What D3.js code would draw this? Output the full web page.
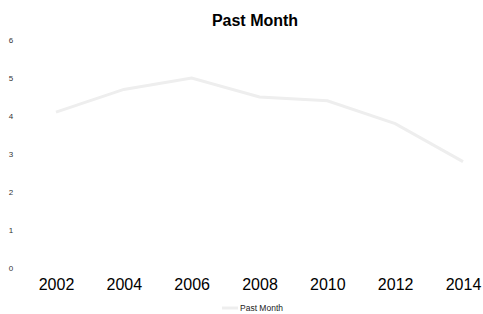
<!DOCTYPE html>
<html><head><meta charset="utf-8">
<script src="https://cdn.jsdelivr.net/npm/d3@7"></script>
<style>body{margin:0;background:#fff}svg{display:block}</style>
</head><body>
<svg id="c" width="483" height="314"></svg>
<script>
const years = ["2002","2004","2006","2008","2010","2012","2014"];
const pastMonth = [4.1, 4.7, 5.0, 4.5, 4.4, 3.8, 2.8];
const yTicks = [0,1,2,3,4,5,6];
const seriesName = "Past Month";

const svg = d3.select("#c");
const x = d3.scalePoint().domain(years).range([56, 463]);
const y = d3.scaleLinear().domain([0, 6]).range([268, 40]);

svg.append("text").attr("x", 255).attr("y", 26).attr("text-anchor","middle")
  .attr("font-family","Liberation Sans, Arial, sans-serif").attr("font-weight","bold")
  .attr("font-size", 16).attr("fill","#000").text("Past Month");

const ya = svg.append("g").attr("transform","translate(14,0)")
  .call(d3.axisLeft(y).tickValues(yTicks).tickFormat(d3.format("d")).tickSize(0).tickPadding(0));
ya.select(".domain").remove();
ya.selectAll("text").attr("font-family","Liberation Sans, Arial, sans-serif")
  .attr("font-size", 8).attr("fill","#333").attr("text-anchor","middle").attr("dx", -3);

const xa = svg.append("g").attr("transform","translate(0,279)")
  .call(d3.axisBottom(x).tickSize(0).tickPadding(0));
xa.select(".domain").remove();
xa.selectAll("text").attr("font-family","Liberation Sans, Arial, sans-serif")
  .attr("font-size", 16).attr("fill","#000").attr("dy","0.71em");

svg.append("path").datum(pastMonth)
  .attr("fill","none").attr("stroke","#eeeeee").attr("stroke-width",3)
  .attr("d", d3.line().x((d,i)=>x(years[i])).y(d=>y(d)));

const lg = svg.append("g");
lg.append("line").attr("x1",222).attr("x2",238).attr("y1",308).attr("y2",308)
  .attr("stroke","#eeeeee").attr("stroke-width",3);
lg.append("text").attr("x",240).attr("y",311).attr("font-family","Liberation Sans, Arial, sans-serif")
  .attr("font-size",8.5).attr("fill","#222").text(seriesName);
</script>
</body></html>
